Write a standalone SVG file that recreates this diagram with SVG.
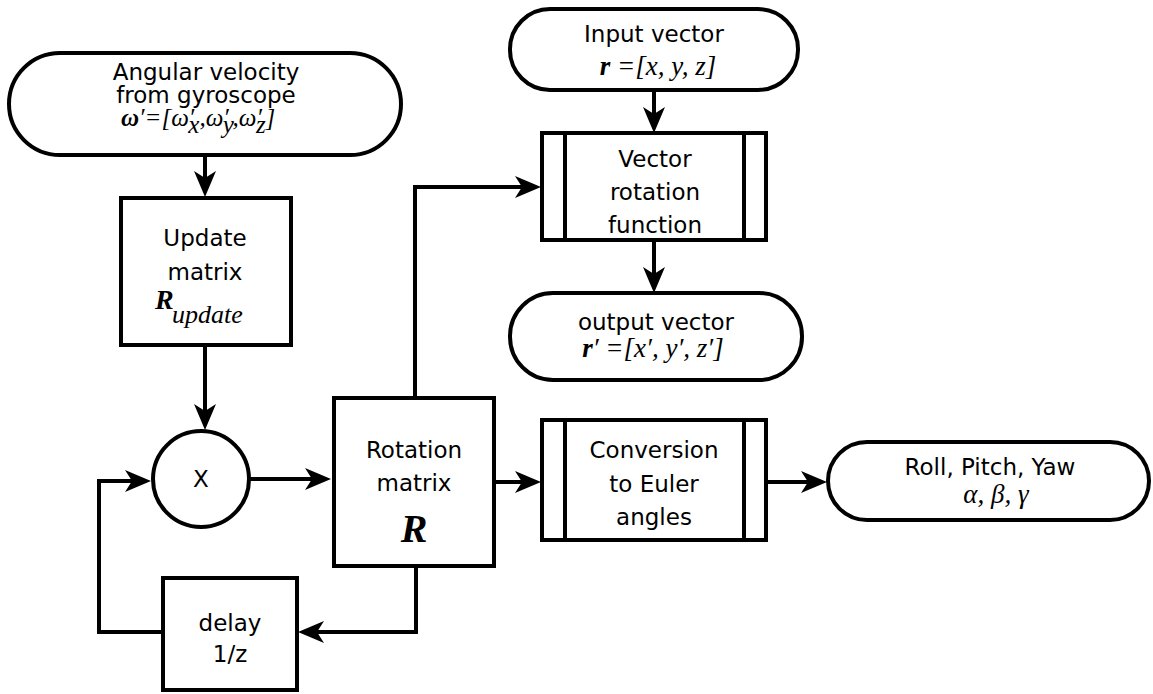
<svg xmlns="http://www.w3.org/2000/svg" width="1153" height="694" viewBox="0 0 1153 694">
<style>
.s{fill:#fff;stroke:#000;stroke-width:4}
.c{fill:none;stroke:#000;stroke-width:4}
.t{font-family:"DejaVu Sans","Liberation Sans",sans-serif;font-size:23px;fill:#000;text-anchor:middle}
.m{font-family:"Liberation Serif","DejaVu Serif",serif;font-size:27px;font-style:italic;fill:#000}
.b{font-weight:bold}
</style>
<defs>
<marker id="ah" viewBox="0 0 26 24" refX="16" refY="12" markerWidth="26" markerHeight="24" markerUnits="userSpaceOnUse" orient="auto">
<path d="M0,1 L26,12 L0,23 L7,12 Z" fill="#000"/>
</marker>
</defs>
<g id="connectors">
<path class="c" d="M205,155 V187" marker-end="url(#ah)"/>
<path class="c" d="M205,345 V420" marker-end="url(#ah)"/>
<path class="c" d="M249,479 H321" marker-end="url(#ah)"/>
<path class="c" d="M163,632 H99 V481 H141" marker-end="url(#ah)"/>
<path class="c" d="M416,566 V632 H308" marker-end="url(#ah)"/>
<path class="c" d="M415,398 V187 H531" marker-end="url(#ah)"/>
<path class="c" d="M654,90 V123" marker-end="url(#ah)"/>
<path class="c" d="M654,240 V283" marker-end="url(#ah)"/>
<path class="c" d="M494,482 H531" marker-end="url(#ah)"/>
<path class="c" d="M766,482 H817" marker-end="url(#ah)"/>
</g>
<g id="angular">
<rect class="s" x="9" y="53" width="392" height="102" rx="51"/>
<text class="t" x="206" y="80">Angular velocity</text>
<text class="t" x="206" y="103">from gyroscope</text>
<text class="m" x="121" y="126" style="font-size:25px"><tspan class="b">ω</tspan>′=[ω′<tspan dx="-6" dy="7">x</tspan><tspan dy="-7">,ω′</tspan><tspan dx="-6" dy="7">y</tspan><tspan dy="-7">,ω′</tspan><tspan dx="-6" dy="7">z</tspan><tspan dy="-7">]</tspan></text>
</g>
<g id="update">
<rect class="s" x="121" y="198" width="170" height="147"/>
<text class="t" x="205" y="246">Update</text>
<text class="t" x="205" y="280">matrix</text>
<text class="m b" x="155" y="309" style="font-size:28px">R</text>
<text class="m" x="172" y="323" style="font-size:26px">update</text>
</g>
<g id="multiply">
<circle class="s" cx="201" cy="479" r="48"/>
<text class="t" x="201" y="487">X</text>
</g>
<g id="rotation">
<rect class="s" x="334" y="398" width="160" height="168"/>
<text class="t" x="414" y="458">Rotation</text>
<text class="t" x="414" y="491">matrix</text>
<text class="m b" x="414" y="542" style="font-size:40px;text-anchor:middle">R</text>
</g>
<g id="delay">
<rect class="s" x="163" y="578" width="134" height="112"/>
<text class="t" x="230" y="631">delay</text>
<text class="t" x="230" y="662">1/z</text>
</g>
<g id="input">
<rect class="s" x="510" y="9" width="288" height="81" rx="40"/>
<text class="t" x="654" y="42">Input vector</text>
<text class="m" x="658" y="75" style="text-anchor:middle"><tspan class="b">r</tspan> =[x, y, z]</text>
</g>
<g id="vecrot">
<rect class="s" x="542" y="133" width="224" height="107"/>
<path class="c" d="M565,133 V240 M744,133 V240"/>
<text class="t" x="655" y="167">Vector</text>
<text class="t" x="655" y="200">rotation</text>
<text class="t" x="655" y="233">function</text>
</g>
<g id="output">
<rect class="s" x="510" y="293" width="292" height="87" rx="43"/>
<text class="t" x="656" y="330">output vector</text>
<text class="m" x="653" y="357" style="text-anchor:middle"><tspan class="b">r</tspan>′ =[x′, y′, z′]</text>
</g>
<g id="conversion">
<rect class="s" x="542" y="420" width="224" height="120"/>
<path class="c" d="M565,420 V540 M744,420 V540"/>
<text class="t" x="654" y="458">Conversion</text>
<text class="t" x="654" y="492">to Euler</text>
<text class="t" x="654" y="525">angles</text>
</g>
<g id="euler">
<rect class="s" x="828" y="442" width="321" height="78" rx="39"/>
<text class="t" x="990" y="475">Roll, Pitch, Yaw</text>
<text class="m" x="996" y="503" style="text-anchor:middle">α, β, γ</text>
</g>
</svg>
